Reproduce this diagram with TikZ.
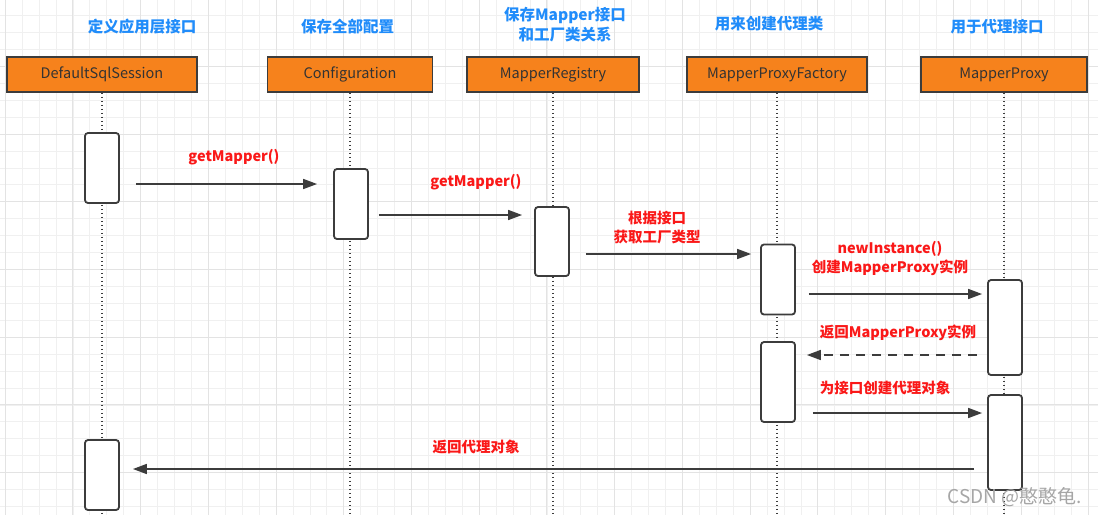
\documentclass[tikz,border=0pt]{standalone}
\usepackage{fontspec}
\setmainfont{Noto Sans CJK SC}
\usetikzlibrary{arrows.meta,positioning}
\definecolor{objorange}{RGB}{246,130,28}
\definecolor{headblue}{RGB}{32,140,250}
\definecolor{msgred}{RGB}{250,24,24}
\definecolor{linegrey}{RGB}{60,60,60}

\begin{document}
\begin{tikzpicture}[x=1pt,y=-1pt,
    gridminor/.style={draw=black!6,line width=0.8pt},
    gridmajor/.style={draw=black!11,line width=1pt},
    objbox/.style={draw=linegrey,line width=1.5pt,fill=objorange,minimum width=#1,
      minimum height=35pt,inner sep=0pt,text=black!80,font=\fontsize{14.5}{16}\selectfont},
    actbox/.style={draw=linegrey,line width=1.8pt,fill=white,rounded corners=3pt,
      minimum width=34pt,minimum height=#1,inner sep=0pt},
    lifeline/.style={draw=linegrey,line width=1.6pt,dash pattern=on 1.6pt off 2.4pt},
    msg/.style={draw=linegrey,line width=1.6pt,-{Triangle[length=14pt,width=10pt]}},
    reply/.style={dash pattern=on 9pt off 7pt},
    head/.style={text=headblue,align=center,font=\bfseries\fontsize{15.5}{20}\selectfont},
    lbl/.style={text=msgred,align=center,font=\bfseries\fontsize{14.5}{19}\selectfont},
    wmark/.style={text=black!35,font=\fontsize{19}{21}\selectfont}]
  \useasboundingbox (0,0) rectangle (1098,515);
  \fill[white] (0,0) rectangle (1098,515);
  \foreach \i in {0,...,64}{% vertical grid lines
    \draw[gridminor] ({5.2+\i*16.93},0) -- ({5.2+\i*16.93},515);}
  \foreach \j in {1,...,30}{% horizontal grid lines
    \draw[gridminor] (0,{-1.4+\j*16.93}) -- (1098,{-1.4+\j*16.93});}
  \foreach \i in {0,4,...,64}{% every fourth line a bit darker
    \draw[gridmajor] ({5.2+\i*16.93},0) -- ({5.2+\i*16.93},515);}
  \foreach \j in {4,8,...,28}{
    \draw[gridmajor] (0,{-1.4+\j*16.93}) -- (1098,{-1.4+\j*16.93});}

  % headings
  \node[head] (h1) at (142,27) {定义应用层接口};
  \node[head] (h2) at (347.5,27) {保存全部配置};
  \node[head] (h3) at (565,25) {保存Mapper接口\\和工厂类关系};
  \node[head] (h4) at (769,24) {用来创建代理类};
  \node[head] (h5) at (997,27) {用于代理接口};

  % objects and their lifelines
  \node[objbox=190pt] (dss) at (102,74.5) {DefaultSqlSession};
  \node[objbox=165pt] (cfg) at (350,74.5) {Configuration};
  \node[objbox=172pt] (reg) at (553,74.5) {MapperRegistry};
  \node[objbox=180pt] (fac) at (777,74.5) {MapperProxyFactory};
  \node[objbox=166pt] (prx) at (1004,74.5) {MapperProxy};
  \foreach \o in {dss,cfg,reg,fac,prx}{% dotted line down to the bottom
    \draw[lifeline] (\o.south) -- ++(0,423);}

  % activations
  \node[actbox=70pt] (act1) at (102,168) {};
  \node[actbox=70pt] (act2) at (351,204) {};
  \node[actbox=69pt] (act3) at (552,241.5) {};
  \node[actbox=70pt] (act4) at (778,279.5) {};
  \node[actbox=95pt] (act5) at (1005,327.5) {};
  \node[actbox=80pt] (act6) at (778,382) {};
  \node[actbox=95pt] (act7) at (1005,442.5) {};
  \node[actbox=70pt] (act8) at (102,475) {};

  % messages
  \draw[msg,shorten <=16pt,shorten >=16pt] (act1.east |- 0,184) -- (act2.west |- 0,184);
  \draw[msg,shorten <=10pt,shorten >=12pt] (act2.east |- 0,215) -- (act3.west |- 0,215);
  \draw[msg,shorten <=16pt,shorten >=9pt] (act3.east |- 0,254) -- (act4.west |- 0,254);
  \draw[msg,shorten <=13pt,shorten >=5pt] (act4.east |- 0,294) -- (act5.west |- 0,294);
  \draw[msg,reply,shorten <=10pt,shorten >=11pt] (act5.west |- 0,355) -- (act6.east |- 0,355);
  \draw[msg,shorten <=17pt,shorten >=5pt] (act6.east |- 0,413) -- (act7.west |- 0,413);
  \draw[msg,shorten <=13pt,shorten >=13pt] (act7.west |- 0,469) -- (act8.east |- 0,469);

  \node[lbl] (m1) at (234,157) {getMapper()};
  \node[lbl] (m2) at (476,182) {getMapper()};
  \node[lbl] (m3) at (657,227) {根据接口\\获取工厂类型};
  \node[lbl] (m4) at (890,258) {newInstance()\\创建MapperProxy实例};
  \node[lbl] (m5) at (898,333) {返回MapperProxy实例};
  \node[lbl] (m6) at (885,388) {为接口创建代理对象};
  \node[lbl] (m7) at (476,447) {返回代理对象};

  \node[wmark] (wm) at (1015,497) {CSDN @憨憨龟.};
\end{tikzpicture}
\end{document}
